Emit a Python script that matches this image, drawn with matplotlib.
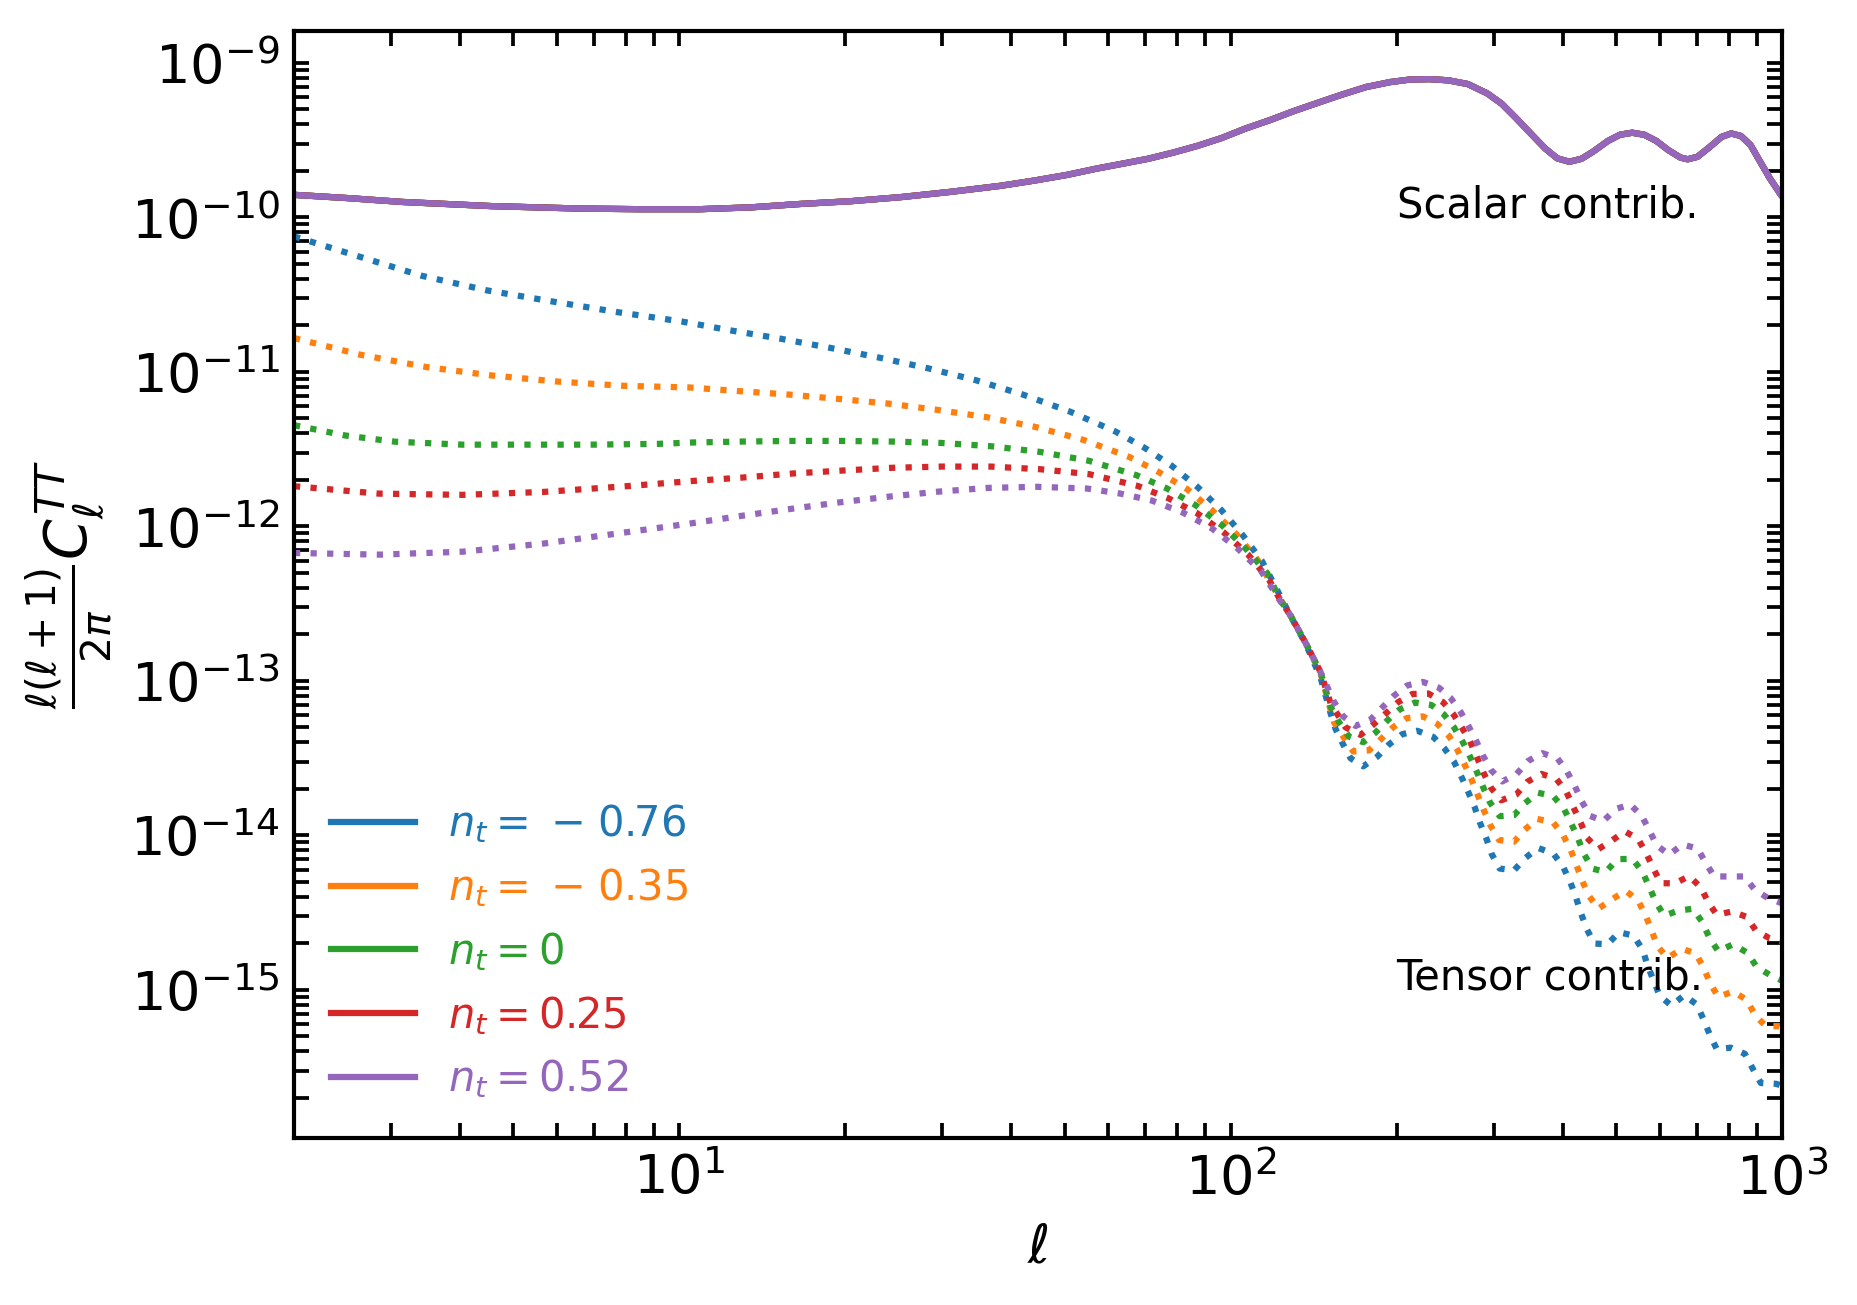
import numpy as np
import matplotlib
matplotlib.use("Agg")
import matplotlib.pyplot as plt

# ---------------- data ----------------
nt_labels = [r'$n_t=\hspace{0.1}-\hspace{0.1}0.76$', r'$n_t=\hspace{0.1}-\hspace{0.1}0.35$',
             r'$n_t=0$', r'$n_t=0.25$', r'$n_t=0.52$']
colors = ['#1f77b4', '#ff7f0e', '#2ca02c', '#d62728', '#9467bd']

# scalar contribution (identical for every n_t)
scalar_ell = [2.0, 2.5, 3.14, 4.56, 6.62, 8.5, 10.9, 13.5, 16.6, 20.5, 25.2, 31.0, 38.2,
              44.0, 50.5, 57.0, 64.2, 71.0, 78.6, 86.9, 96.2, 106.4, 117.7, 130.2, 144.0,
              159.3, 176.2, 194.9, 211.3, 229.1, 248.3, 269.2, 291.9, 310.1, 329.5, 350.1,
              371.9, 391.2, 411.4, 432.7, 455.0, 483.5, 508.5, 534.9, 562.5, 591.6, 622.3,
              654.5, 674.5, 702.4, 738.7, 777.0, 809.0, 842.3, 877.0, 913.0, 950.6, 995.9,
              1000]
scalar_log10 = [-9.854, -9.875, -9.900, -9.927, -9.943, -9.947, -9.947, -9.935, -9.913,
                -9.895, -9.869, -9.835, -9.796, -9.762, -9.725, -9.685, -9.650, -9.620,
                -9.581, -9.538, -9.487, -9.425, -9.371, -9.312, -9.258, -9.205, -9.156,
                -9.124, -9.108, -9.105, -9.113, -9.137, -9.197, -9.264, -9.358, -9.457,
                -9.554, -9.618, -9.640, -9.621, -9.573, -9.505, -9.465, -9.452, -9.465,
                -9.505, -9.565, -9.613, -9.624, -9.608, -9.546, -9.479, -9.457, -9.473,
                -9.532, -9.640, -9.747, -9.855, -9.862]

# tensor contributions
t_ell_m076 = [2.0, 2.6, 3.41, 4.47, 5.83, 7.68, 10.1, 12.45, 15.3, 18.8, 23.0, 28.2, 34.5,
              42.0, 51.1, 61.8, 69.7, 78.2, 87.2, 96.1, 105.3, 114.1, 123.0, 128.4, 136.8,
              145.6, 151.8, 155.0, 159.4, 165.0, 174.0, 184.5, 193.7, 204.8, 218.0, 233.1,
              244.4, 254.2, 262.4, 269.8, 277.1, 283.4, 291.0, 297.5, 307.6, 326.6, 342.0,
              361.0, 385.0, 400.4, 412.7, 422.6, 431.5, 442.5, 456.3, 482.5, 506.4, 537.9,
              558.4, 570.2, 584.6, 600.3, 630.3, 664.6, 700.8, 720.6, 741.0, 761.9, 807.7,
              856.4, 884.2, 915.5, 974.9, 1000]
t_log_m076 = [-10.123, -10.249, -10.378, -10.472, -10.542, -10.612, -10.674, -10.733,
              -10.786, -10.845, -10.907, -10.976, -11.054, -11.147, -11.257, -11.386,
              -11.490, -11.608, -11.747, -11.893, -12.059, -12.228, -12.450, -12.580,
              -12.760, -12.980, -13.210, -13.312, -13.401, -13.501, -13.553, -13.490,
              -13.412, -13.345, -13.323, -13.363, -13.439, -13.524, -13.624, -13.720,
              -13.818, -13.920, -14.021, -14.121, -14.215, -14.226, -14.148, -14.081,
              -14.119, -14.199, -14.299, -14.397, -14.500, -14.605, -14.700, -14.705,
              -14.627, -14.649, -14.738, -14.839, -14.939, -15.039, -15.102, -15.035,
              -15.095, -15.191, -15.296, -15.385, -15.374, -15.414, -15.507, -15.603,
              -15.608, -15.620]

t_ell_m035 = [2.0, 2.64, 3.48, 4.56, 6.03, 7.90, 10.44, 12.86, 15.83, 19.45, 23.91, 29.39,
              36.07, 44.19, 54.05, 65.62, 74.10, 83.38, 92.67, 102.3, 111.9, 123.0, 128.4,
              136.8, 145.6, 153.9, 160.5, 166.9, 178.2, 187.1, 197.0, 208.6, 223.3, 237.1,
              248.9, 257.7, 265.7, 273.6, 280.9, 288.1, 296.2, 306.7, 326.6, 341.5, 360.0,
              384.5, 400.8, 413.8, 423.8, 434.5, 446.8, 464.5, 491.1, 520.7, 548.3, 566.2,
              580.6, 594.5, 619.9, 658.2, 697.9, 720.6, 741.0, 766.1, 815.6, 863.5, 894.3,
              934.9, 988.3, 1000]
t_log_m035 = [-10.781, -10.889, -10.969, -11.023, -11.063, -11.090, -11.101, -11.125,
              -11.147, -11.175, -11.205, -11.246, -11.293, -11.356, -11.440, -11.552,
              -11.649, -11.759, -11.898, -12.049, -12.217, -12.470, -12.577, -12.755,
              -12.950, -13.267, -13.368, -13.457, -13.450, -13.379, -13.301, -13.241,
              -13.230, -13.279, -13.357, -13.446, -13.542, -13.640, -13.742, -13.840,
              -13.938, -14.030, -14.041, -13.963, -13.894, -13.916, -13.998, -14.094,
              -14.192, -14.297, -14.393, -14.475, -14.415, -14.359, -14.422, -14.520,
              -14.620, -14.716, -14.794, -14.734, -14.765, -14.856, -14.957, -15.046,
              -15.010, -15.066, -15.166, -15.235, -15.235, -15.240]

t_ell_0 = [2.0, 2.48, 3.05, 4.04, 5.29, 6.93, 9.17, 10.58, 13.02, 16.03, 19.71, 24.26,
           29.88, 36.71, 45.12, 55.38, 67.51, 76.48, 86.39, 96.45, 106.3, 116.5, 123.0,
           128.4, 136.8, 145.6, 151.8, 157.2, 163.9, 174.0, 183.2, 192.4, 202.6, 216.0,
           231.2, 243.8, 254.2, 263.5, 271.7, 279.4, 287.3, 295.4, 307.6, 326.6, 342.0,
           361.0, 385.0, 402.4, 415.0, 426.7, 437.5, 453.0, 478.9, 502.9, 535.5, 558.4,
           574.1, 590.4, 611.3, 649.0, 690.0, 717.6, 737.9, 766.1, 815.6, 865.9, 899.2,
           948.1, 1000]
t_log_0 = [-11.345, -11.412, -11.452, -11.471, -11.471, -11.471, -11.466, -11.457,
           -11.451, -11.447, -11.447, -11.451, -11.460, -11.481, -11.518, -11.576,
           -11.669, -11.753, -11.863, -11.993, -12.141, -12.303, -12.476, -12.577,
           -12.755, -12.944, -13.167, -13.267, -13.361, -13.397, -13.334, -13.256,
           -13.185, -13.140, -13.156, -13.218, -13.301, -13.394, -13.490, -13.586,
           -13.691, -13.787, -13.876, -13.869, -13.791, -13.724, -13.747, -13.829,
           -13.925, -14.021, -14.121, -14.215, -14.237, -14.154, -14.152, -14.237,
           -14.331, -14.431, -14.520, -14.487, -14.475, -14.565, -14.660, -14.750,
           -14.705, -14.761, -14.850, -14.901, -14.940]

t_ell_025 = [2.0, 2.85, 4.04, 5.68, 8.02, 10.58, 13.02, 16.03, 19.71, 24.26, 29.88, 36.71,
             45.12, 55.38, 67.84, 77.09, 86.93, 97.21, 107.4, 117.4, 123.0, 128.4, 136.8,
             145.6, 151.8, 161.6, 172.1, 181.4, 191.0, 201.2, 213.6, 228.4, 242.8, 253.5,
             263.2, 271.7, 280.2, 288.1, 297.0, 309.7, 329.8, 345.3, 366.1, 389.8, 406.4,
             418.5, 431.5, 442.5, 463.9, 490.4, 518.6, 548.3, 567.8, 584.6, 602.9, 640.1,
             678.7, 712.7, 734.9, 761.9, 810.0, 862.3, 896.7, 948.1, 1000]
t_log_025 = [-11.740, -11.788, -11.796, -11.777, -11.740, -11.706, -11.684, -11.658,
             -11.639, -11.621, -11.613, -11.613, -11.630, -11.662, -11.738, -11.818,
             -11.915, -12.040, -12.180, -12.346, -12.476, -12.577, -12.755, -12.944,
             -13.145, -13.301, -13.350, -13.283, -13.212, -13.138, -13.085, -13.082,
             -13.138, -13.216, -13.308, -13.390, -13.501, -13.602, -13.695, -13.773,
             -13.735, -13.653, -13.602, -13.635, -13.718, -13.818, -13.918, -14.014,
             -14.090, -14.036, -13.974, -14.023, -14.119, -14.215, -14.310, -14.310,
             -14.264, -14.337, -14.433, -14.515, -14.493, -14.527, -14.616, -14.665,
             -14.690]

t_ell_052 = [2.0, 2.86, 4.04, 5.68, 8.02, 10.53, 12.96, 15.93, 19.58, 24.07, 29.54, 36.30,
             44.62, 54.85, 62.92, 71.98, 81.93, 92.37, 102.8, 113.7, 122.6, 128.4, 136.8,
             145.6, 153.9, 160.0, 168.5, 179.4, 188.4, 197.8, 209.2, 223.3, 238.8, 250.6,
             261.3, 269.8, 279.0, 286.9, 297.0, 311.0, 330.3, 346.2, 367.6, 391.4, 407.1,
             420.9, 433.4, 448.7, 474.5, 499.6, 530.4, 556.8, 574.1, 592.9, 624.2, 660.0,
             702.7, 727.6, 753.4, 802.1, 854.0, 893.1, 941.2, 1000]
t_log_052 = [-12.172, -12.183, -12.164, -12.111, -12.038, -11.980, -11.932, -11.887,
             -11.844, -11.807, -11.775, -11.751, -11.744, -11.755, -11.787, -11.833,
             -11.911, -12.012, -12.141, -12.292, -12.476, -12.577, -12.755, -12.944,
             -13.134, -13.230, -13.292, -13.250, -13.172, -13.096, -13.029, -13.007,
             -13.045, -13.111, -13.201, -13.290, -13.390, -13.484, -13.579, -13.651,
             -13.602, -13.519, -13.468, -13.501, -13.584, -13.680, -13.780, -13.874,
             -13.907, -13.829, -13.800, -13.874, -13.965, -14.065, -14.125, -14.059,
             -14.085, -14.179, -14.266, -14.266, -14.266, -14.353, -14.404, -14.440]

tensor_ell = [t_ell_m076, t_ell_m035, t_ell_0, t_ell_025, t_ell_052]
tensor_log = [t_log_m076, t_log_m035, t_log_0, t_log_025, t_log_052]

# ---------------- figure ----------------
plt.rcParams['axes.linewidth'] = 1.0
fig = plt.figure(figsize=(1857 / 300, 1305 / 300), dpi=300)
ax = fig.add_axes([0.1583, 0.1280, 0.8013, 0.8483])

for lab, col, te, tl in zip(nt_labels, colors, tensor_ell, tensor_log):
    ax.plot(scalar_ell, 10 ** np.array(scalar_log10), color=col, lw=1.5, ls='-', label=lab)
    ax.plot(te, 10 ** np.array(tl), color=col, lw=1.5, ls=':')

ax.set_xscale('log')
ax.set_yscale('log')
ax.set_xlim(2, 1000)
ax.set_ylim(1.10e-16, 1.61e-9)

ax.tick_params(which='both', direction='in', top=True, right=True,
               length=3.6, width=0.9, labelsize=13)

ax.text(200, 1e-10, 'Scalar contrib.', fontsize=10)
ax.text(200, 1e-15, 'Tensor contrib.', fontsize=10)

ax.set_xlabel(r'$\ell$', fontsize=13)
ax.set_ylabel(r'$\frac{\ell(\ell+1)}{2\pi}C_\ell^{TT}$', fontsize=14)

ax.legend(loc='lower left', frameon=False, fontsize=10, labelcolor='linecolor')

fig.savefig('out.png', dpi=300)
